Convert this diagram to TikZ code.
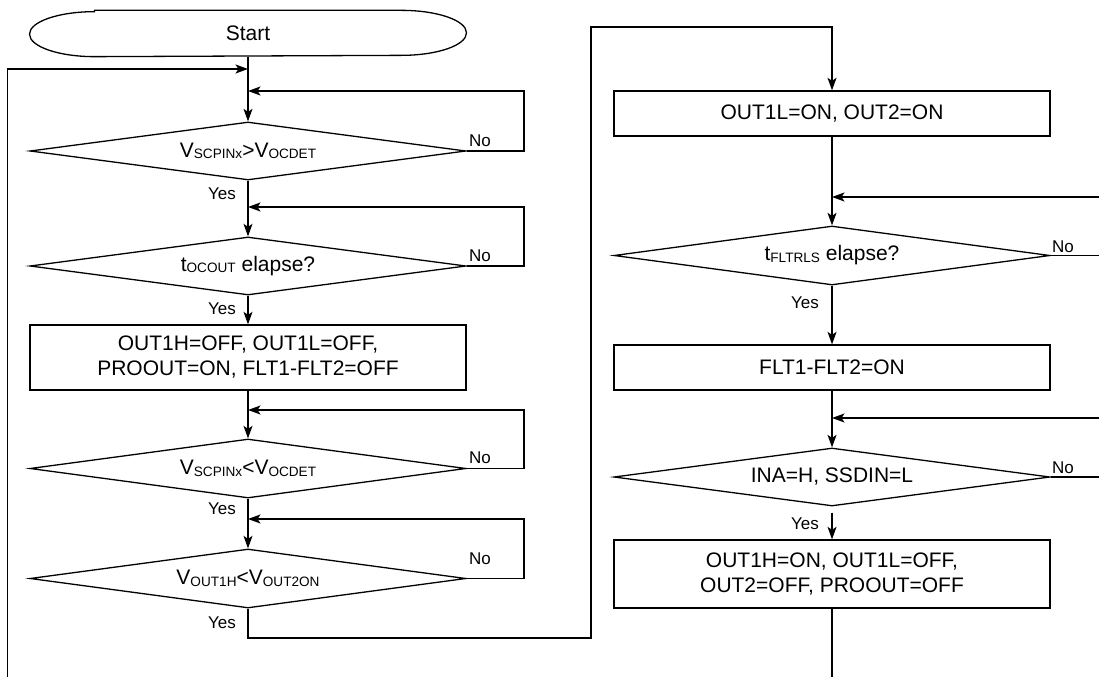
\documentclass[tikz,border=0pt]{standalone}
\usepackage{fontspec}
\setmainfont{Liberation Sans}
\usetikzlibrary{shapes.geometric,arrows.meta}
\newcommand\subtx[1]{\raisebox{-1.5pt}{\fontsize{13.6}{13.6}\selectfont #1}}
\begin{document}
\begin{tikzpicture}[x=1pt,y=-1pt,
  line width=1.3pt,
  every node/.style={font=\fontsize{21}{25}\selectfont},
  arr/.style={-{Stealth[length=12.5pt,width=9pt,inset=3pt]}},
  dec/.style={diamond, draw, shape aspect=8, minimum width=436pt, minimum height=58pt, inner sep=0pt},
  proc/.style={rectangle, draw, minimum width=436pt, inner sep=0pt, align=center},
  lbl/.style={font=\fontsize{17}{17}\selectfont, anchor=base, inner sep=0pt}
]
\useasboundingbox (0,0) rectangle (1099,677);

% helper coordinates
\coordinate (lx) at (524,0);
\coordinate (rx) at (1099,0);
\coordinate (bx) at (7.5,0);
\coordinate (bot) at (0,677);
\coordinate (j0) at (248,69);
\coordinate (j1) at (248,91);
\coordinate (j2) at (248,207);
\coordinate (j3) at (248,410);
\coordinate (j4) at (248,519);
\coordinate (jr1) at (832,197);
\coordinate (jr2) at (832,418);
\coordinate (yb) at (591,638);
\coordinate (tl) at (591,27);

% start terminal
\node[minimum width=437pt, minimum height=45pt, inner sep=0pt] (start) at (248,33.5) {Start};
\draw ([xshift=-153.5pt]start.north) -- ([xshift=153.5pt]start.north)
  arc[start angle=90, end angle=-90, x radius=65pt, y radius=22.5pt]
  -- ([xshift=-153.5pt]start.south)
  arc[start angle=270, end angle=90, x radius=65pt, y radius=22.5pt] -- cycle;

% left column
\node[dec] (d1) at (248,151) {V\subtx{SCPINx}>V\subtx{OCDET}};
\node[dec] (d2) at (248,266) {t\subtx{OCOUT} elapse?};
\node[proc, minimum height=65pt] (b1) at (248,357.5) {OUT1H=OFF, OUT1L=OFF,\\PROOUT=ON, FLT1-FLT2=OFF};
\node[dec, minimum height=59pt] (d3) at (248,468.5) {V\subtx{SCPINx}<V\subtx{OCDET}};
\node[dec, minimum height=59pt] (d4) at (248,578.5) {V\subtx{OUT1H}<V\subtx{OUT2ON}};

% right column
\node[proc, minimum height=45pt] (r1) at (832,113.5) {OUT1L=ON, OUT2=ON};
\node[dec, minimum height=59pt] (r2) at (832,255.5) {t\subtx{FLTRLS} elapse?};
\node[proc, minimum height=45pt] (r3) at (832,367.5) {FLT1-FLT2=ON};
\node[dec] (r4) at (832,477) {INA=H, SSDIN=L};
\node[proc, minimum height=68pt] (r5) at (832,574) {OUT1H=ON, OUT1L=OFF,\\OUT2=OFF, PROOUT=OFF};

% main flow left
\draw[arr] (start.south) -- (d1.north);
\draw[arr] (d1.south) -- (d2.north);
\draw[arr] (d2.south) -- (b1.north);
\draw[arr] (b1.south) -- (d3.north);
\draw[arr] (d3.south) -- (d4.north);

% back loop from bottom
\draw[arr] (bot -| bx) |- (j0);

% No loops left
\draw[arr] (d1.east) -- (d1.east -| lx) |- (j1);
\draw[arr] (d2.east) -- (d2.east -| lx) |- (j2);
\draw[arr] (d3.east) -- (d3.east -| lx) |- (j3);
\draw[arr] (d4.east) -- (d4.east -| lx) |- (j4);

% yes path to right column
\draw[arr] (d4.south) |- (yb) -- (tl) -| (r1.north);

% main flow right
\draw[arr] (r1.south) -- (r2.north);
\draw[arr] (r2.south) -- (r3.north);
\draw[arr] (r3.south) -- (r4.north);
\draw[arr, shorten <=6pt] (r4.south) -- (r5.north);
\draw (r5.south) -- (r5.south |- bot);

% right No lines (off page)
\draw (r2.east) -- (r2.east -| rx);
\draw[arr] (jr1 -| rx) -- (jr1);
\draw (r4.east) -- (r4.east -| rx);
\draw[arr] (jr2 -| rx) -- (jr2);

% labels
\node[lbl] (n1) at (480,146) {No};
\node[lbl] (n2) at (480,261) {No};
\node[lbl] (n3) at (480,463) {No};
\node[lbl] (n4) at (480,564) {No};
\node[lbl] (n5) at (1063,252) {No};
\node[lbl] (n6) at (1063,473) {No};
\node[lbl] (y1) at (222,199) {Yes};
\node[lbl] (y2) at (222,314) {Yes};
\node[lbl] (y3) at (222,514) {Yes};
\node[lbl] (y4) at (222,628) {Yes};
\node[lbl] (y5) at (805,308) {Yes};
\node[lbl] (y6) at (805,529) {Yes};
\end{tikzpicture}
\end{document}
